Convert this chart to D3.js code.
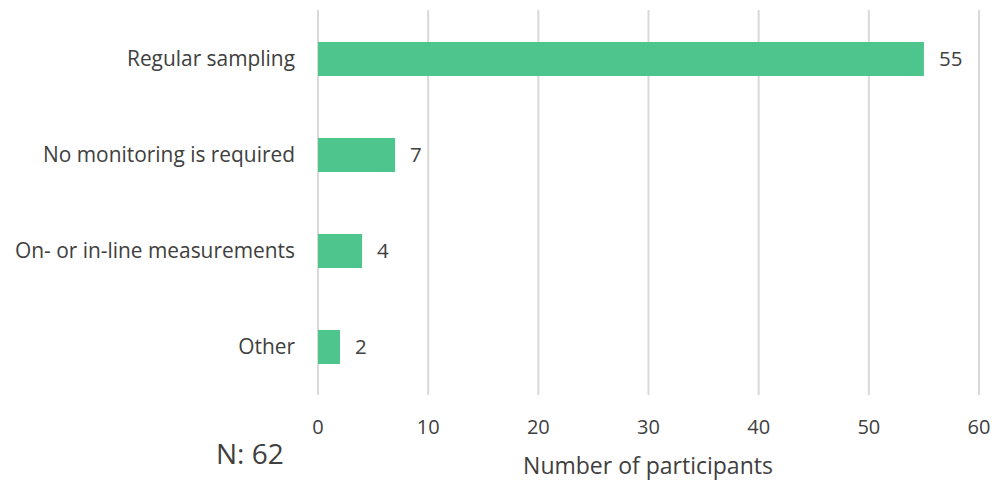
<!DOCTYPE html>
<html>
<head>
<meta charset="utf-8">
<title>Monitoring</title>
<script src="https://d3js.org/d3.v7.min.js"></script>
<style>
  body { margin: 0; background: #fff; }
  text { font-family: "Open Sans", sans-serif; fill: #404040; }
  .grid line { stroke: #d9d9d9; stroke-width: 2; }
</style>
</head>
<body>
<svg id="chart" width="997" height="481"></svg>
<script>
// data
var categories = ["Regular sampling", "No monitoring is required", "On- or in-line measurements", "Other"];
var counts = [55, 7, 4, 2];
var xTicks = [0, 10, 20, 30, 40, 50, 60];

var svg = d3.select("#chart");

var x = d3.scaleLinear().domain([0, 60]).range([318, 979]);
var y = d3.scaleBand().domain(categories).range([11, 395]).paddingInner(0.646).paddingOuter(0.323);

// gridlines
svg.append("g").attr("class", "grid")
  .selectAll("line").data(xTicks).enter().append("line")
  .attr("x1", d => x(d)).attr("x2", d => x(d))
  .attr("y1", 10).attr("y2", 395);

// bars
svg.selectAll(".bar").data(categories).enter().append("rect")
  .attr("class", "bar")
  .attr("x", x(0))
  .attr("y", d => y(d))
  .attr("width", (d, i) => x(counts[i]) - x(0))
  .attr("height", y.bandwidth())
  .attr("fill", "#4dc58d");

// value labels
svg.selectAll(".val").data(categories).enter().append("text")
  .attr("x", (d, i) => x(counts[i]) + 15)
  .attr("y", d => y(d) + y.bandwidth() / 2)
  .attr("dy", "0.35em")
  .style("font-size", "20.5px")
  .text((d, i) => counts[i]);

// category labels
svg.selectAll(".cat").data(categories).enter().append("text")
  .attr("x", 295)
  .attr("y", d => y(d) + y.bandwidth() / 2)
  .attr("dy", "0.35em")
  .attr("text-anchor", "end")
  .style("font-size", "20.9px")
  .text(d => d);

// x tick labels
svg.selectAll(".tick").data(xTicks).enter().append("text")
  .attr("x", d => x(d))
  .attr("y", 427)
  .attr("dy", "0.35em")
  .attr("text-anchor", "middle")
  .style("font-size", "20px")
  .text(d => d);

// axis title
svg.append("text")
  .attr("x", 648).attr("y", 466)
  .attr("dy", "0.35em")
  .attr("text-anchor", "middle")
  .style("font-size", "23px")
  .text("Number of participants");

// N label
svg.append("text")
  .attr("x", 216).attr("y", 454)
  .attr("dy", "0.35em")
  .style("font-size", "28px")
  .text("N: 62");
</script>
</body>
</html>
